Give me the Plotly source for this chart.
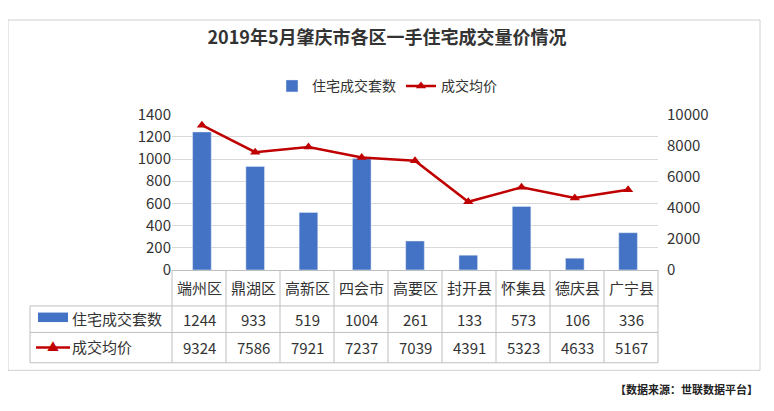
import plotly.graph_objects as go

districts = ["端州区", "鼎湖区", "高新区", "四会市", "高要区", "封开县", "怀集县", "德庆县", "广宁县"]
deals = [1244, 933, 519, 1004, 261, 133, 573, 106, 336]
avg_price = [9324, 7586, 7921, 7237, 7039, 4391, 5323, 4633, 5167]

# page body has an 8px margin, so draw a slightly smaller figure and shift coordinates
OFF = 8
W, H = 774 - 2 * OFF, 411 - 2 * OFF
FONT = "Noto Sans CJK SC"
BLUE = "#4472C4"
RED = "#C00000"
GRID = "#BFBFBF"


def px(x):
    return (x - OFF) / W


def py(y):
    return 1 - (y - OFF) / H


x0, x1 = 172, 658
top, bottom = 108, 272
row_lines = [272, 310, 338, 370]

fig = go.Figure()
fig.add_trace(go.Bar(x=districts, y=deals, name="住宅成交套数", marker_color=BLUE, width=0.35))
fig.add_trace(go.Scatter(x=districts, y=avg_price, name="成交均价", yaxis="y2", mode="lines+markers",
                         line=dict(color=RED, width=2.5),
                         marker=dict(symbol="triangle-up", size=9, color=RED)))

shapes = [dict(type="rect", xref="paper", yref="paper", x0=px(8), x1=px(760), y0=py(378), y1=py(8),
               line=dict(color="#D0D0D0", width=1))]
# table grid
for y in row_lines[1:]:
    shapes.append(dict(type="line", xref="paper", yref="paper", x0=px(30), x1=px(x1), y0=py(y), y1=py(y),
                       line=dict(color=GRID, width=1)))
shapes.append(dict(type="line", xref="paper", yref="paper", x0=px(30), x1=px(30), y0=py(310), y1=py(370),
                   line=dict(color=GRID, width=1)))
step = (x1 - x0) / len(districts)
for i in range(len(districts) + 1):
    shapes.append(dict(type="line", xref="paper", yref="paper", x0=px(x0 + i * step), x1=px(x0 + i * step),
                       y0=py(370), y1=py(272), line=dict(color=GRID, width=1)))
# legend keys in table
shapes.append(dict(type="rect", xref="paper", yref="paper", x0=px(38), x1=px(68), y0=py(327), y1=py(317),
                   fillcolor=BLUE, line=dict(width=0)))
shapes.append(dict(type="line", xref="paper", yref="paper", x0=px(36), x1=px(70), y0=py(354), y1=py(354),
                   line=dict(color=RED, width=2.5)))


def note(x, y, text, anchor="center", size=15, color="#333"):
    return dict(x=px(x), y=py(y), text=text, xanchor=anchor, yanchor="middle", showarrow=False,
                xref="paper", yref="paper", font=dict(size=size, color=color))


annotations = []
for i, d in enumerate(districts):
    cx = x0 + (i + 0.5) * step
    annotations.append(note(cx, 291, d))
    annotations.append(note(cx, 324, str(deals[i])))
    annotations.append(note(cx, 354, str(avg_price[i])))
annotations += [
    note(70, 323, "住宅成交套数", "left"),
    note(70, 353, "成交均价", "left"),
    note(53, 353, "▲", size=12, color=RED),
    note(760, 398, "<b>【数据来源：世联数据平台】</b>", "right", size=11, color="#222"),
]

fig.update_layout(
    width=W, height=H, margin=dict(l=0, r=0, t=0, b=0),
    paper_bgcolor="white", plot_bgcolor="white",
    font=dict(family=FONT, size=14, color="#333"),
    title=dict(text="<b>2019年5月肇庆市各区一手住宅成交量价情况</b>", x=px(387), xanchor="center",
               y=py(38), yanchor="middle", font=dict(size=18, color="#333")),
    legend=dict(orientation="h", x=px(387), xanchor="center", y=py(78), yanchor="middle",
                font=dict(size=14)),
    xaxis=dict(domain=[px(x0), px(x1)], showticklabels=False, showline=True, linecolor=GRID),
    yaxis=dict(domain=[py(bottom), py(top)], range=[0, 1400], dtick=200, gridcolor="#D9D9D9",
               tickfont=dict(size=15), zeroline=False),
    yaxis2=dict(overlaying="y", side="right", range=[0, 10000], dtick=2000, showgrid=False,
                tickformat="d", tickfont=dict(size=15), zeroline=False, anchor="free",
                position=px(x1 + 8)),
    shapes=shapes, annotations=annotations, bargap=0.5,
)
fig.write_html("out.html")
